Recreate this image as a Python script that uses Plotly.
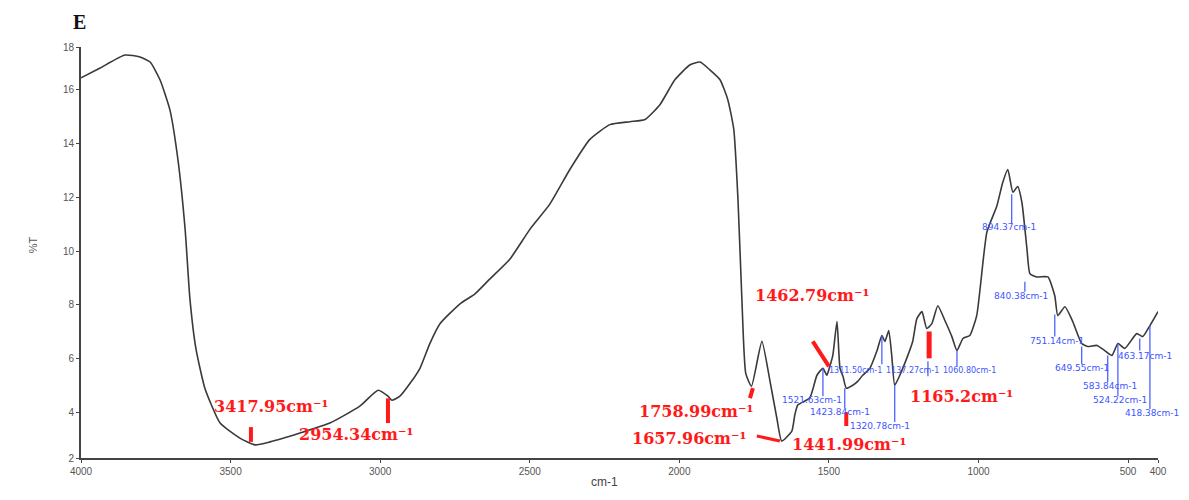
import plotly.graph_objects as go

# FTIR spectrum, sample E
wavenumber = [4000, 3936, 3853, 3803, 3769, 3736, 3703, 3676, 3652, 3636, 3616, 3586,
              3535, 3469, 3418, 3368, 3268, 3168, 3068, 3007, 2974, 2961, 2934, 2900,
              2867, 2834, 2800, 2733, 2683, 2633, 2566, 2499, 2433, 2366, 2299, 2232,
              2165, 2115, 2065, 2015, 1965, 1931, 1898, 1864, 1838, 1818, 1804, 1791,
              1778, 1759, 1724, 1697, 1674, 1658, 1624, 1614, 1604, 1564, 1540, 1520,
              1507, 1497, 1487, 1473, 1463, 1453, 1442, 1420, 1403, 1387, 1363, 1340,
              1323, 1313, 1300, 1290, 1280, 1263, 1240, 1220, 1206, 1189, 1173, 1156,
              1136, 1112, 1089, 1072, 1052, 1029, 1006, 972, 939, 919, 902, 885, 869,
              855, 838, 828, 805, 768, 745, 735, 711, 685, 655, 635, 604, 578, 554,
              534, 511, 471, 451, 427, 400]
transmittance = [16.45, 16.82, 17.30, 17.23, 17.04, 16.38, 15.27, 13.41, 10.82, 8.23, 6.38, 4.90,
                 3.60, 3.04, 2.79, 2.90, 3.23, 3.60, 4.23, 4.82, 4.60, 4.45, 4.60, 5.08,
                 5.64, 6.56, 7.30, 8.04, 8.41, 8.97, 9.71, 10.82, 11.75, 13.04, 14.16, 14.71,
                 14.82, 14.90, 15.45, 16.38, 16.93, 17.04, 16.75, 16.38, 15.64, 14.53, 11.93, 8.23,
                 5.45, 4.97, 6.64, 5.16, 3.78, 2.93, 3.30, 3.90, 4.27, 4.53, 5.38, 5.64,
                 5.38, 5.71, 6.12, 7.38, 5.64, 5.34, 4.90, 5.01, 5.16, 5.38, 5.64, 6.27,
                 6.86, 6.64, 7.04, 6.12, 5.01, 5.38, 6.01, 6.64, 7.49, 7.75, 7.12, 7.30,
                 7.97, 7.41, 6.82, 6.30, 6.75, 6.86, 7.60, 10.71, 11.67, 12.56, 13.04, 12.19, 12.41,
                 11.82, 10.08, 9.16, 9.04, 9.04, 8.34, 7.60, 7.93, 7.38, 6.56, 6.45, 6.49, 6.30, 6.12,
                 6.56, 6.38, 6.93, 6.82, 7.23, 7.75]

x_ticks = [4000, 3500, 3000, 2500, 2000, 1500, 1000, 500, 400]
y_ticks = [2.3, 4, 6, 8, 10, 12, 14, 16, 17.6]
y_tick_text = ["2", "4", "6", "8", "10", "12", "14", "16", "18"]

# main assigned bands (red)
red_peaks = ["3417.95", "2954.34", "1758.99", "1657.96", "1462.79", "1441.99", "1165.2"]
# instrument peak picks (blue)
blue_peaks = ["894.37", "840.38", "751.14", "649.55", "583.84", "524.22", "418.38",
              "463.17", "1521.63", "1423.84", "1320.78", "1311.50", "1137.27", "1060.80"]

RED = "#ff1a1a"
BLUE = "#3d55ff"

fig = go.Figure()
fig.add_trace(go.Scatter(x=wavenumber, y=transmittance, mode="lines",
                         line=dict(color="#3a3a3a", width=1.6, shape="spline", smoothing=0.5),
                         hoverinfo="x+y"))

shapes = []
annotations = []

# red bar markers: (x0, y0, x1, y1, width)
red_bars = [(3432, 3.45, 3432, 2.90, 4), (2974, 4.52, 2974, 3.60, 4),
            (1764, 4.53, 1754, 4.90, 4), (1741, 3.12, 1664, 2.93, 3),
            (1554, 6.64, 1500, 5.71, 4), (1442, 4.01, 1442, 3.49, 4),
            (1165, 7.01, 1165, 6.01, 5)]
for x0, y0, x1, y1, w in red_bars:
    shapes.append(dict(type="line", xref="x", yref="y", x0=x0, y0=y0, x1=x1, y1=y1,
                       line=dict(color=RED, width=w)))

red_pos = [(3362, 4.23), (3078, 3.16), (1941, 4.04), (1965, 3.04),
           (1554, 8.34), (1430, 2.79), (1056, 4.60)]
for label, (x, y) in zip(red_peaks, red_pos):
    annotations.append(dict(x=x, y=y, xref="x", yref="y", showarrow=False,
                            text=f"{label}cm\u207b\u00b9",
                            font=dict(family="DejaVu Serif", size=16, color=RED, weight="bold")))

# blue leader lines: (x, y_top, y_bottom)
blue_lines = [(889, 12.12, 11.04), (845, 8.86, 8.49), (745, 7.64, 6.82), (655, 6.45, 5.79),
              (568, 6.12, 5.12), (534, 6.56, 4.60), (427, 7.23, 4.12), (461, 6.75, 6.30),
              (1520, 5.64, 4.60), (1447, 4.90, 4.16), (1280, 5.01, 3.64), (1323, 6.86, 5.79),
              (1169, 5.90, 5.34), (1072, 6.30, 5.71)]
for x, ya, yb in blue_lines:
    shapes.append(dict(type="line", xref="x", yref="y", x0=x, y0=ya, x1=x, y1=yb,
                       line=dict(color=BLUE, width=1.2)))

# label centre and font size for each blue pick
blue_pos = [(898, 10.90, 9), (858, 8.34, 9), (738, 6.64, 9), (655, 5.64, 9), (561, 4.97, 9),
            (528, 4.45, 9), (421, 3.97, 9), (444, 6.08, 9), (1557, 4.45, 9), (1463, 4.01, 9),
            (1330, 3.49, 9), (1410, 5.56, 8), (1219, 5.56, 8), (1029, 5.56, 8)]
for label, (x, y, fs) in zip(blue_peaks, blue_pos):
    annotations.append(dict(x=x, y=y, xref="x", yref="y", showarrow=False,
                            text=f"{label}cm-1",
                            font=dict(family="DejaVu Sans", size=fs, color=BLUE)))

# panel letter and axis titles
annotations += [
    dict(xref="paper", yref="paper", x=0.0, y=1.0, xanchor="center", yanchor="middle",
         xshift=-2, yshift=25, showarrow=False, text="E",
         font=dict(family="Liberation Serif", size=20, color="#111111", weight="bold")),
    dict(xref="paper", yref="paper", x=-0.052, y=0.52, showarrow=False, textangle=-90,
         text="%T", font=dict(family="Liberation Sans", size=11, color="#555555")),
    dict(xref="paper", yref="paper", x=0.486, y=0, yshift=-33, showarrow=False,
         text="cm-1", font=dict(family="Liberation Sans", size=12, color="#444444")),
]

fig.update_layout(
    width=1189, height=500,
    margin=dict(l=81, r=31, t=47, b=42),
    paper_bgcolor="white", plot_bgcolor="white",
    showlegend=False,
    shapes=shapes,
    annotations=annotations,
    xaxis=dict(range=[4000, 400], tickvals=x_ticks, ticktext=[str(t) for t in x_ticks],
               showgrid=False, zeroline=False, showline=True, linecolor="#444444", linewidth=2,
               ticks="outside", ticklen=3, tickcolor="#444444",
               tickfont=dict(family="Liberation Sans", size=10, color="#555555")),
    yaxis=dict(range=[2.3, 17.6], tickvals=y_ticks, ticktext=y_tick_text,
               showgrid=False, zeroline=False, showline=True, linecolor="#444444", linewidth=2,
               ticks="outside", ticklen=3, tickcolor="#444444",
               tickfont=dict(family="Liberation Sans", size=10, color="#555555")),
)

fig.write_html("out.html")
